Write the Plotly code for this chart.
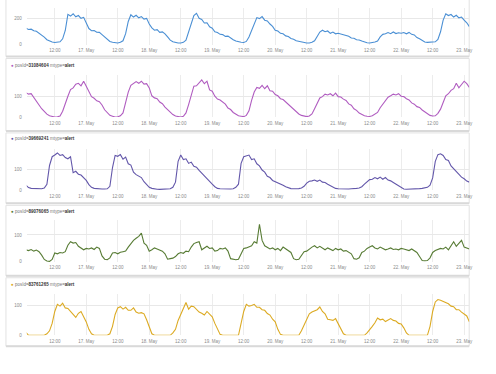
import pandas as pd
import plotly.graph_objects as go

START = "2023-05-16 01:00"

blue = [128,118,120,108,104,90,77,58,38,28,20,17,18,22,45,110,235,222,240,216,226,204,212,165,
        125,108,110,96,95,78,60,42,25,18,14,13,18,30,85,180,232,214,228,208,218,198,204,160,
        130,112,116,95,99,84,60,35,22,15,13,13,18,35,100,170,225,243,204,196,168,170,138,128,
        100,94,80,78,64,66,50,38,28,22,18,17,25,60,110,165,210,202,218,190,184,160,142,112,
        106,88,84,68,63,48,42,30,25,18,15,13,13,18,30,70,98,112,100,106,88,98,84,88,
        82,78,68,65,52,49,38,36,28,20,15,13,15,20,28,60,80,84,94,85,98,86,92,89,
        94,84,95,80,75,55,45,30,20,18,18,18,22,40,100,190,240,226,234,214,228,208,214,190,
        170,140]

purple = [117,110,112,92,74,58,40,25,14,6,2,0,1,5,28,70,100,132,140,158,162,150,172,148,
          120,98,90,78,74,58,35,20,8,4,0,1,6,20,70,120,152,160,170,162,172,158,160,140,
          102,92,88,72,64,48,35,22,12,5,1,0,4,20,60,102,148,150,165,178,160,172,130,124,
          100,86,82,70,62,43,36,22,12,6,4,2,8,30,80,120,142,138,152,136,150,126,124,108,
          102,88,84,72,64,48,40,24,15,8,4,2,5,15,40,70,92,98,110,106,112,102,115,98,
          96,86,80,63,57,40,32,19,12,6,4,3,6,12,22,45,62,78,95,102,110,106,112,100,
          98,88,82,68,62,50,46,34,25,15,8,5,6,18,38,70,102,112,128,136,162,140,158,172,
          160,142]

indigo = [25,14,10,9,8,7,8,12,30,120,162,170,180,168,172,158,152,162,85,92,78,74,60,48,
          28,15,10,8,6,7,7,8,20,110,168,164,172,150,160,128,122,88,76,70,62,42,28,15,
          10,7,6,5,5,6,7,8,15,40,140,170,148,152,130,136,116,112,96,82,70,56,42,30,
          18,10,8,7,6,7,7,8,15,30,130,162,166,170,148,152,128,118,98,88,68,62,48,42,
          40,32,25,18,12,9,8,8,9,12,20,35,44,46,50,44,50,40,38,30,22,15,10,8,
          7,6,6,7,8,8,10,12,18,30,42,52,54,62,56,64,54,62,50,46,38,30,20,12,
          7,6,6,7,8,8,9,10,12,15,25,60,140,172,176,168,148,144,118,104,88,76,64,56,
          45,40]

green = [45,42,46,40,44,38,25,9,3,2,9,33,30,35,33,38,62,75,70,72,58,52,45,50,
         48,52,46,55,50,22,10,8,15,33,35,30,36,38,40,55,70,80,88,95,107,70,62,40,
         45,52,48,45,40,30,10,12,14,20,30,35,32,40,38,55,68,72,75,45,52,58,50,52,
         40,42,50,48,52,40,12,9,8,10,30,50,52,55,60,75,70,140,80,60,55,48,52,45,
         50,42,55,48,40,35,12,8,10,25,38,40,48,55,60,52,58,50,45,52,48,42,50,45,
         48,40,42,35,30,12,10,15,35,40,50,55,60,52,48,55,50,45,48,52,46,48,45,50,
         48,45,42,48,40,35,20,5,4,5,15,35,42,45,50,48,55,45,60,75,58,70,80,55,
         50,48]

yellow = [10,0,0,0,0,0,0,0,5,15,40,80,104,98,108,92,90,78,70,60,74,80,64,45,
          20,5,0,0,0,0,0,0,5,30,70,92,96,88,94,84,84,92,78,74,76,72,52,25,
          5,0,0,0,0,0,0,0,8,20,50,72,94,110,88,98,96,86,78,74,68,80,70,62,
          40,20,3,0,0,0,0,0,0,0,40,80,104,98,100,104,94,94,86,84,73,68,54,45,
          20,3,0,0,0,0,0,0,0,15,35,55,72,78,82,86,95,80,72,54,52,50,56,40,
          20,5,0,0,0,0,0,0,0,0,8,18,30,42,58,52,54,46,52,56,50,48,40,38,
          25,8,0,0,0,0,0,0,0,0,30,80,112,120,118,114,108,106,98,96,86,86,78,72,
          65,45]

series_names = ["", "31084604", "39669241", "89076065", "83761265"]
series_values = [blue, purple, indigo, green, yellow]
series_colors = ["#4a8fd4", "#b05cc0", "#6357aa", "#587c35", "#dcaa22"]

x_tick_vals = pd.date_range("2023-05-16 12:00", "2023-05-23 00:00", freq="12h")
x_tick_text = ["12:00", "17. May", "12:00", "18. May", "12:00", "19. May", "12:00",
               "20. May", "12:00", "21. May", "12:00", "22. May", "12:00", "23. May"]

y_tick_vals = [[0, 200], [0, 100], [0, 100], [0, 100], [0, 100]]
y_ranges = [[0, 285], [0, 200], [0, 200], [0, 155], [0, 140]]

# layout geometry in pixels
W, H = 496, 374
plot_px = [(8, 45), (76, 118), (150, 192), (222, 264), (296, 338)]
frame_px = [(-3, 57), (59, 132), (134, 205), (207, 278), (280, 349)]
label_px = [None, 66, 140, 213, 287]
X0, X1 = 27, 473

def py(p):
    return 1 - p / H

fig = go.Figure()
layout = dict(
    width=W, height=H, margin=dict(l=0, r=0, t=0, b=0),
    paper_bgcolor="white", plot_bgcolor="white", showlegend=False,
    font=dict(family="Liberation Sans, Arial, sans-serif", size=5, color="#888"),
)
shapes = []
annotations = []
tick_font = dict(size=4.5, color="#8a8a8a")
xr = [pd.Timestamp("2023-05-16 01:20"), pd.Timestamp("2023-05-23 01:55")]

for i, vals in enumerate(series_values):
    n = "" if i == 0 else str(i + 1)
    times = pd.date_range(START, periods=len(vals), freq="h")
    fig.add_trace(go.Scatter(x=times, y=vals, mode="lines",
                             line=dict(color=series_colors[i], width=1.1),
                             xaxis="x" + n, yaxis="y" + n, hoverinfo="skip"))
    top, bot = plot_px[i]
    layout["xaxis" + n] = dict(
        domain=[X0 / W, X1 / W], anchor="y" + n, range=xr,
        tickvals=x_tick_vals, ticktext=x_tick_text, tickfont=tick_font,
        showgrid=True, gridcolor="#ececec", gridwidth=1, zeroline=False,
        showline=False, ticks="", ticklabelstandoff=2)
    layout["yaxis" + n] = dict(
        domain=[py(bot), py(top)], anchor="x" + n, range=y_ranges[i],
        tickvals=y_tick_vals[i], tickfont=tick_font,
        showgrid=True, gridcolor="#e8e8e8", gridwidth=1, zeroline=False,
        showline=False, ticks="", ticklabelstandoff=4)
    ft, fb = frame_px[i]
    shapes.append(dict(type="rect", xref="paper", yref="paper",
                       x0=6 / W, x1=X1 / W, y0=py(fb), y1=py(ft),
                       line=dict(color="#e2e2e2", width=1), layer="below"))
    shapes.append(dict(type="line", xref="paper", yref="paper",
                       x0=6 / W, x1=X1 / W, y0=py(fb), y1=py(fb),
                       line=dict(color="#d9d9d9", width=2)))
    if label_px[i] is not None:
        txt = ("<span style='color:%s'>●</span> posId=<span style='color:#333'><b>%s</b></span>"
               " mtype=<span style='color:#333'><b>alert</b></span>") % (series_colors[i], series_names[i])
        annotations.append(dict(text=txt, xref="paper", yref="paper",
                                x=9 / W, y=py(label_px[i]), xanchor="left", yanchor="middle",
                                showarrow=False, font=dict(size=4.5, color="#777")))

layout["shapes"] = shapes
layout["annotations"] = annotations
fig.update_layout(**layout)
fig.write_html("out.html", config={"displayModeBar": False, "staticPlot": True},
               post_script="document.body.style.margin='0';document.body.style.overflow='hidden';")
